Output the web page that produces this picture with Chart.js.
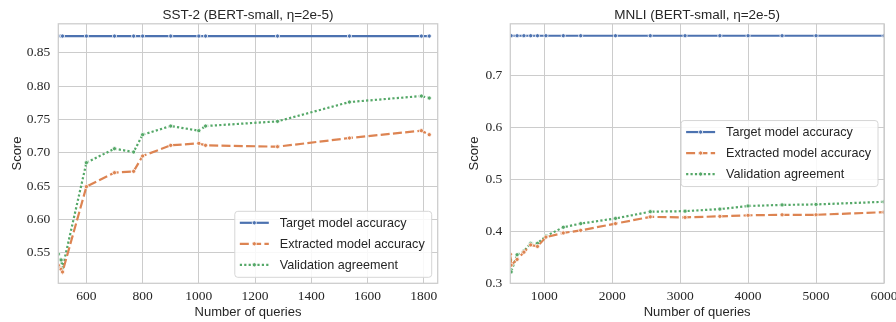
<!DOCTYPE html>
<html>
<head>
<meta charset="utf-8">
<script src="https://cdn.jsdelivr.net/npm/chart.js@4.4.1/dist/chart.umd.min.js"></script>
<style>
  html, body { margin: 0; padding: 0; background: #fff; }
  #wrap { position: relative; width: 896px; height: 322px; }
  .panel { position: absolute; top: 0; width: 448px; height: 322px; }
</style>
</head>
<body>
<div id="wrap">
  <div class="panel" style="left:0"><canvas id="sstChart"></canvas></div>
  <div class="panel" style="left:448px"><canvas id="mnliChart"></canvas></div>
</div>
<script>
// SST-2 panel
const sstQueries = [500, 510, 515, 600, 700, 768, 800, 900, 1000, 1024, 1280, 1536, 1792, 1820];
const sstTarget = [0.875, 0.875, 0.875, 0.875, 0.875, 0.875, 0.875, 0.875, 0.875, 0.875, 0.875, 0.875, 0.875, 0.875];
const sstExtracted = [0.531, 0.525, 0.521, 0.649, 0.670, 0.672, 0.695, 0.711, 0.714, 0.711, 0.709, 0.722, 0.733, 0.727];
const sstAgreement = [0.548, 0.539, 0.527, 0.685, 0.706, 0.701, 0.727, 0.740, 0.733, 0.740, 0.747, 0.776, 0.785, 0.782];
const sstXTicks = [600, 800, 1000, 1200, 1400, 1600, 1800];
const sstYTicks = [0.55, 0.60, 0.65, 0.70, 0.75, 0.80, 0.85];

// MNLI panel
const mnliQueries = [500, 512, 600, 700, 800, 900, 1024, 1280, 1536, 2048, 2560, 3072, 3584, 4000, 4500, 5000, 6000];
const mnliTarget = [0.777, 0.777, 0.777, 0.777, 0.777, 0.777, 0.777, 0.777, 0.777, 0.777, 0.777, 0.777, 0.777, 0.777, 0.777, 0.777, 0.777];
const mnliExtracted = [0.356, 0.335, 0.346, 0.360, 0.374, 0.371, 0.389, 0.397, 0.402, 0.415, 0.428, 0.427, 0.429, 0.431, 0.432, 0.432, 0.437];
const mnliAgreement = [0.345, 0.322, 0.355, 0.362, 0.377, 0.377, 0.391, 0.408, 0.415, 0.425, 0.438, 0.439, 0.443, 0.449, 0.451, 0.452, 0.457];
const mnliXTicks = [1000, 2000, 3000, 4000, 5000, 6000];
const mnliYTicks = [0.3, 0.4, 0.5, 0.6, 0.7];

const seriesNames = ['Target model accuracy', 'Extracted model accuracy', 'Validation agreement'];

const SANS = '"Liberation Sans", Arial, sans-serif';
const SERIF = '"Liberation Serif", "DejaVu Serif", serif';
const TEXT = '#262626';
const GRID = '#cccccc';

function toPoints(xs, ys) {
  return xs.map((x, i) => ({ x: x, y: ys[i] }));
}

function makeDatasets(xs, target, extracted, agreement) {
  const common = {
    borderWidth: 2.2,
    pointRadius: 2.1,
    pointBorderWidth: 0.8,
    pointBorderColor: '#ffffff',
    pointHoverRadius: 2.1,
    tension: 0,
    clip: 0,
  };
  return [
    Object.assign({}, common, {
      label: seriesNames[0], data: toPoints(xs, target),
      borderColor: '#4c72b0', pointBackgroundColor: '#4c72b0', borderDash: [],
    }),
    Object.assign({}, common, {
      label: seriesNames[1], data: toPoints(xs, extracted),
      borderColor: '#dd8452', pointBackgroundColor: '#dd8452', borderDash: [9, 3.3],
    }),
    Object.assign({}, common, {
      label: seriesNames[2], data: toPoints(xs, agreement),
      borderColor: '#55a868', pointBackgroundColor: '#55a868', borderDash: [2.2, 2.2],
    }),
  ];
}

// light grey box around the plot area, like seaborn whitegrid spines
const framePlugin = {
  id: 'frame',
  afterDatasetsDraw(chart) {
    const { ctx, chartArea: a } = chart;
    ctx.save();
    ctx.strokeStyle = GRID;
    ctx.lineWidth = 1.25;
    ctx.strokeRect(a.left, a.top, a.right - a.left, a.bottom - a.top);
    ctx.restore();
  }
};

// legend drawn inside the axes
const boxLegend = {
  id: 'boxLegend',
  afterDraw(chart, args, opts) {
    const { ctx, chartArea: a } = chart;
    ctx.save();
    ctx.font = '12.6px ' + SANS;
    const sets = chart.data.datasets;
    const textW = Math.max(...sets.map(d => ctx.measureText(d.label).width));
    const w = 45 + textW + 7;
    const h = 66;
    const x = a.right - 6 - w;
    const y = opts.place === 'lower right' ? a.bottom - 6 - h : (a.top + a.bottom) / 2 - h / 2;

    ctx.beginPath();
    ctx.roundRect(x, y, w, h, 3);
    ctx.fillStyle = 'rgba(255,255,255,0.85)';
    ctx.fill();
    ctx.strokeStyle = '#d6d6d6';
    ctx.lineWidth = 1;
    ctx.stroke();

    sets.forEach((d, i) => {
      const ry = y + 11.5 + i * 21;
      ctx.beginPath();
      ctx.setLineDash(d.borderDash || []);
      ctx.strokeStyle = d.borderColor;
      ctx.lineWidth = d.borderWidth;
      ctx.moveTo(x + 5, ry);
      ctx.lineTo(x + 34, ry);
      ctx.stroke();
      ctx.setLineDash([]);
      ctx.beginPath();
      ctx.arc(x + 19.5, ry, 2.1, 0, Math.PI * 2);
      ctx.fillStyle = d.borderColor;
      ctx.fill();
      ctx.strokeStyle = '#fff';
      ctx.lineWidth = 0.8;
      ctx.stroke();

      ctx.fillStyle = TEXT;
      ctx.textBaseline = 'middle';
      ctx.textAlign = 'left';
      ctx.fillText(d.label, x + 45, ry + 0.5);
    });
    ctx.restore();
  }
};

function buildChart(canvasId, cfg) {
  const ctx = document.getElementById(canvasId).getContext('2d');
  return new Chart(ctx, {
    type: 'line',
    data: { datasets: makeDatasets(cfg.xs, cfg.target, cfg.extracted, cfg.agreement) },
    options: {
      responsive: true,
      maintainAspectRatio: false,
      animation: false,
      events: [],
      layout: { padding: { left: 0, right: cfg.padRight, top: 0, bottom: 0 } },
      plugins: {
        legend: { display: false },
        tooltip: { enabled: false },
        title: {
          display: true,
          fullSize: false,
          text: cfg.title,
          color: TEXT,
          font: { family: SANS, size: 13.5, weight: 'normal', lineHeight: 1.2 },
          padding: { top: 7.5, bottom: 0.1 },
        },
        boxLegend: { place: cfg.legendPlace },
      },
      scales: {
        x: {
          type: 'linear',
          min: cfg.xMin,
          max: cfg.xMax,
          afterBuildTicks: s => { s.ticks = cfg.xTicks.map(v => ({ value: v })); },
          afterFit: s => { s.height = 38.7; s.paddingLeft = 0; s.paddingRight = 0; },
          grid: { color: GRID, lineWidth: 1, drawTicks: false },
          border: { display: false },
          ticks: {
            color: TEXT, padding: 5, maxRotation: 0, autoSkip: false,
            font: { family: SERIF, size: 13.5 },
            callback: v => String(v),
          },
          title: {
            display: true, text: 'Number of queries', color: TEXT,
            font: { family: SANS, size: 13 }, padding: { top: 0, bottom: 1.5 },
          },
        },
        y: {
          type: 'linear',
          min: cfg.yMin,
          max: cfg.yMax,
          afterBuildTicks: s => { s.ticks = cfg.yTicks.map(v => ({ value: v })); },
          afterFit: s => { s.width = cfg.yWidth; s.paddingTop = 0; s.paddingBottom = 0; },
          grid: { color: GRID, lineWidth: 1, drawTicks: false },
          border: { display: false },
          ticks: {
            color: TEXT, padding: 8, autoSkip: false,
            font: { family: SERIF, size: 13.5 },
            callback: v => v.toFixed(cfg.yDigits),
          },
          title: {
            display: true, text: 'Score', color: TEXT,
            font: { family: SANS, size: 13 }, padding: { top: cfg.yTitlePad, bottom: 0 },
          },
        },
      },
    },
    plugins: [framePlugin, boxLegend],
  });
}

buildChart('sstChart', {
  title: 'SST-2 (BERT-small, η=2e-5)',
  xs: sstQueries, target: sstTarget, extracted: sstExtracted, agreement: sstAgreement,
  xTicks: sstXTicks, yTicks: sstYTicks,
  xMin: 500, xMax: 1850, yMin: 0.504, yMax: 0.8934, yDigits: 2,
  yWidth: 58.3, padRight: 10.3, yTitlePad: 9.2, legendPlace: 'lower right',
});

buildChart('mnliChart', {
  title: 'MNLI (BERT-small, η=2e-5)',
  xs: mnliQueries, target: mnliTarget, extracted: mnliExtracted, agreement: mnliAgreement,
  xTicks: mnliXTicks, yTicks: mnliYTicks,
  xMin: 500, xMax: 6000, yMin: 0.3, yMax: 0.8, yDigits: 1,
  yWidth: 62.3, padRight: 12, yTitlePad: 18.9, legendPlace: 'center right',
});
</script>
</body>
</html>
